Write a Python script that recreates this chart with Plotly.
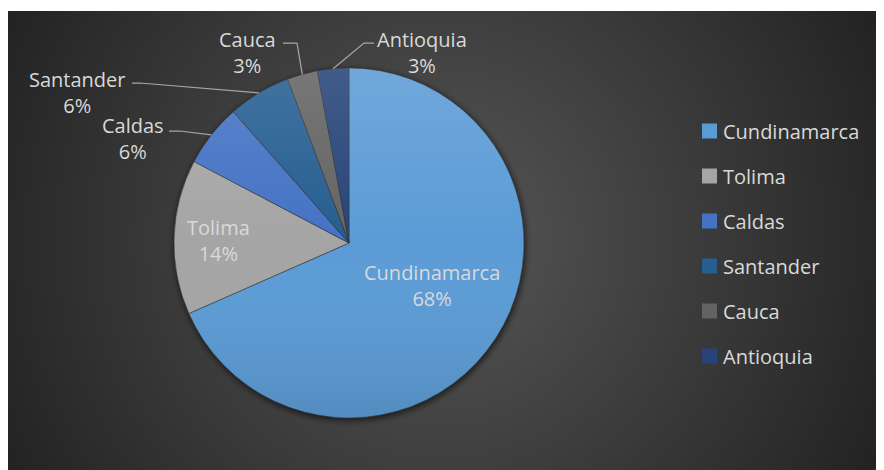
import math
import base64
import plotly.graph_objects as go

# ---------------- data ----------------
labels = ["Cundinamarca", "Tolima", "Caldas", "Santander", "Cauca", "Antioquia"]
values = [68.4, 14.3, 5.8, 5.8, 2.8, 2.9]
colors = ["#5B9BD5", "#A5A5A5", "#4472C4", "#255E91", "#636363", "#264478"]

# ---------------- layout constants (pixels, in screenshot coordinates) ----------------
OFF = 8                            # page body margin
W, H = 884, 470
CX, CY, R = 349, 243, 175          # pie centre / radius
FONT = "Open Sans"
TXT = "#D9D9D9"
FS = 20


def px(x):
    return (x - OFF) / W


def py(y):
    return 1 - (y - OFF) / H


# slice mid-angles (clockwise from 12 o'clock) computed from the data
total = sum(values)
mids, acc = [], 0.0
for v in values:
    mids.append((acc + v / 2) / total * 360)
    acc += v


def arc_point(i, frac=1.0):
    t = math.radians(mids[i])
    return CX + R * frac * math.sin(t), CY - R * frac * math.cos(t)


# ---------------- background (radial gradient + pie shadow) ----------------
bx0, by0 = 7, 11
bw, bh = W + OFF - bx0, H + OFF - by0
bg_svg = f"""<svg xmlns="http://www.w3.org/2000/svg" width="{bw}" height="{bh}" viewBox="0 0 {bw} {bh}">
<defs>
<radialGradient id="g" gradientUnits="userSpaceOnUse" cx="{440-bx0}" cy="{240-by0}" r="{bw*0.55}">
<stop offset="0" stop-color="#575757"/><stop offset="1" stop-color="#232323"/>
</radialGradient>
<filter id="b" x="-20%" y="-20%" width="140%" height="140%"><feGaussianBlur stdDeviation="3"/></filter>
</defs>
<rect width="{bw}" height="{bh}" fill="url(#g)"/>
<circle cx="{CX-bx0+1}" cy="{CY-by0+2}" r="{R+1}" fill="#000" fill-opacity="0.6" filter="url(#b)"/>
</svg>"""
bg_uri = "data:image/svg+xml;base64," + base64.b64encode(bg_svg.encode()).decode()

ov_svg = f"""<svg xmlns="http://www.w3.org/2000/svg" width="{2*R}" height="{2*R}" viewBox="0 0 {2*R} {2*R}">
<defs><linearGradient id="l" x1="0" y1="0" x2="0" y2="1">
<stop offset="0" stop-color="#fff" stop-opacity="0.13"/>
<stop offset="0.5" stop-color="#fff" stop-opacity="0"/>
<stop offset="1" stop-color="#000" stop-opacity="0.10"/>
</linearGradient></defs>
<circle cx="{R}" cy="{R}" r="{R}" fill="url(#l)"/>
</svg>"""
ov_uri = "data:image/svg+xml;base64," + base64.b64encode(ov_svg.encode()).decode()

# ---------------- pie ----------------
fig = go.Figure(go.Pie(
    labels=labels,
    values=values,
    sort=False,
    direction="clockwise",
    rotation=0,
    marker=dict(colors=colors, line=dict(color="rgba(50,50,50,0.7)", width=0.75)),
    textinfo="none",
    showlegend=False,
    hoverinfo="label+percent",
    domain=dict(x=[px(CX - R), px(CX + R)], y=[py(CY + R), py(CY - R)]),
))

# ---------------- data labels ----------------
# index: (label centre x, label centre y, leader elbow points from text side or None)
label_pos = {
    0: (432, 285, None),
    1: (218, 240, None),
    2: (133, 138, [(169, 131), (180, 131)]),
    3: (77, 92, [(132, 83), (140, 83)]),
    4: (248, 52, [(283, 43), (297, 43)]),
    5: (422, 52, [(374, 43), (364, 43)]),
}
shapes = []
annotations = []
for i, (tx, ty, pts) in label_pos.items():
    if pts:
        ax, ay = arc_point(i)
        path_pts = pts + [(ax, ay)]
        d = "M " + " L ".join(f"{px(x)},{py(y)}" for x, y in path_pts)
        shapes.append(dict(type="path", path=d, xref="paper", yref="paper",
                           line=dict(color="#A6A6A6", width=1.25)))
    pct = round(values[i] / total * 100)
    annotations.append(dict(x=px(tx), y=py(ty), xref="paper", yref="paper",
                            text=f"{labels[i]}<br>{pct}%", showarrow=False,
                            xanchor="center", yanchor="middle", align="center",
                            font=dict(family=FONT, size=FS, color=TXT)))

# ---------------- legend (drawn from labels / colors) ----------------
LEG_X, LEG_Y0, LEG_DY, SQ = 702, 131, 45, 15
for i, (lab, col) in enumerate(zip(labels, colors)):
    yc = LEG_Y0 + i * LEG_DY
    shapes.append(dict(type="rect", xref="paper", yref="paper",
                       x0=px(LEG_X), x1=px(LEG_X + SQ), y0=py(yc + SQ / 2), y1=py(yc - SQ / 2),
                       fillcolor=col, line=dict(width=0)))
    annotations.append(dict(x=px(LEG_X + SQ + 4), y=py(yc), xref="paper", yref="paper",
                            text=lab, showarrow=False, xanchor="left", yanchor="middle",
                            font=dict(family=FONT, size=FS, color=TXT)))

fig.update_layout(
    width=W, height=H,
    margin=dict(l=0, r=0, t=0, b=0),
    paper_bgcolor="white",
    plot_bgcolor="rgba(0,0,0,0)",
    shapes=shapes,
    annotations=annotations,
    images=[
        dict(source=bg_uri, xref="paper", yref="paper", x=px(bx0), y=py(by0),
             sizex=bw / W, sizey=bh / H, xanchor="left", yanchor="top",
             sizing="stretch", layer="below"),
        dict(source=ov_uri, xref="paper", yref="paper", x=px(CX - R), y=py(CY - R),
             sizex=2 * R / W, sizey=2 * R / H, xanchor="left", yanchor="top",
             sizing="stretch", layer="above"),
    ],
)

fig.write_html("out.html")
